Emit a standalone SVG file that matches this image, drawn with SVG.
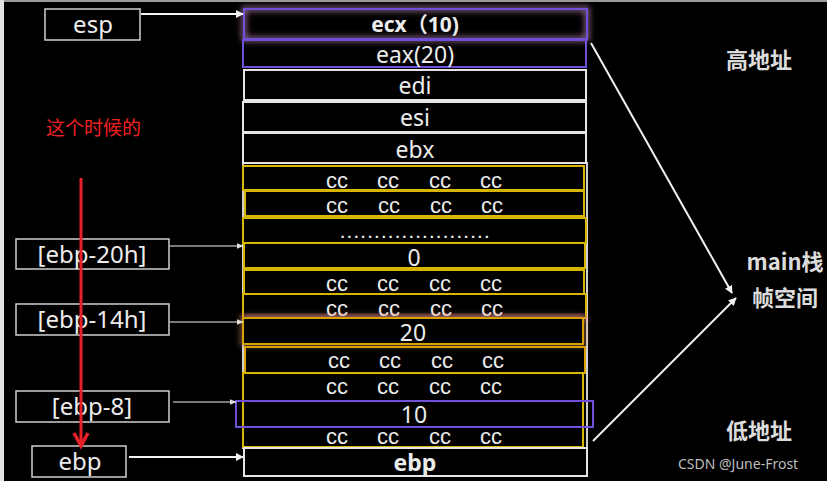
<svg xmlns="http://www.w3.org/2000/svg" width="827" height="481" viewBox="0 0 827 481">
<defs>
<style>
.t{font-family:"Noto Sans","Noto Sans CJK SC",sans-serif;fill:#ececec;text-anchor:middle}
.cell{fill:#000;stroke:#e6e6e6;stroke-width:2}
.yel{fill:none;stroke:#d8b600;stroke-width:2}
.pur{fill:none;stroke:#7050d8;stroke-width:2}
.lbl{fill:#000;stroke:#d0d0d0;stroke-width:1.5}
.cc{font-size:22px;font-family:"Liberation Sans",sans-serif}
.conn{stroke:#f2f2f2;fill:none}
.side{font-family:"Noto Sans CJK SC","Noto Sans",sans-serif;fill:#dcdcdc;font-size:22px;font-weight:bold;text-anchor:middle}
</style>
<marker id="ah" viewBox="0 0 10 10" refX="9" refY="5" markerWidth="4" markerHeight="4" orient="auto" markerUnits="strokeWidth"><path d="M0,0L10,5L0,10z" fill="#f2f2f2"/></marker>
<marker id="ahs" viewBox="0 0 10 10" refX="9" refY="5" markerWidth="6" markerHeight="6" orient="auto" markerUnits="strokeWidth"><path d="M0,1L10,5L0,9z" fill="#dcdcdc"/></marker>
<filter id="glow" x="-10%" y="-60%" width="120%" height="220%"><feGaussianBlur stdDeviation="3"/></filter>
</defs>
<rect width="827" height="481" fill="#000"/>
<rect x="0" y="0" width="827" height="2" fill="#9a9a9a"/>
<rect x="0" y="0" width="4" height="481" fill="#e4e4e4"/>

<g id="stack">
<rect x="243" y="163" width="344" height="285" fill="none" stroke="#cfcfcf" stroke-width="2"/>
<rect x="244" y="9" width="343" height="30" fill="none" stroke="#e0a0d8" stroke-width="3" filter="url(#glow)"/>
<rect class="pur" x="244" y="9" width="343" height="30" fill="#000"/>
<text class="t" x="415" y="32" font-size="21" font-weight="bold" fill="#f2e4f2">ecx（10)</text>
<rect class="pur" x="243" y="40" width="343" height="27" stroke-width="1.5"/>
<text class="t" x="415" y="63" font-size="23">eax(20)</text>
<rect class="cell" x="244" y="70" width="342" height="30"/>
<text class="t" x="415" y="94" font-size="23">edi</text>
<rect class="cell" x="243" y="102" width="343" height="30"/>
<text class="t" x="415" y="126" font-size="23">esi</text>
<rect class="cell" x="243" y="133" width="343" height="30"/>
<text class="t" x="415" y="158" font-size="23">ebx</text>

<rect class="yel" x="243" y="166" width="341" height="24"/>
<g class="t cc"><text x="337" y="188">cc</text><text x="388" y="188">cc</text><text x="440" y="188">cc</text><text x="491" y="188">cc</text></g>
<rect class="yel" x="245" y="191" width="339" height="25"/>
<g class="t cc"><text x="337" y="213">cc</text><text x="389" y="213">cc</text><text x="441" y="213">cc</text><text x="492" y="213">cc</text></g>
<rect class="yel" x="243" y="218" width="343" height="25"/>
<text x="416" y="238" font-family="'Liberation Sans',sans-serif" font-size="15" font-weight="bold" fill="#ececec" text-anchor="middle" letter-spacing="2.7">......................</text>
<rect class="yel" x="244" y="243" width="341" height="25"/>
<text class="t" x="414" y="266" font-size="23">0</text>
<rect class="yel" x="244" y="270" width="340" height="24"/>
<g class="t cc"><text x="337" y="291">cc</text><text x="388" y="291">cc</text><text x="440" y="291">cc</text><text x="491" y="291">cc</text></g>
<rect class="yel" x="243" y="294" width="343" height="24"/>
<rect x="243" y="316" width="343" height="4" fill="#d070a0" filter="url(#glow)"/>
<g class="t cc" fill="#f0e0f0"><text x="337" y="316">cc</text><text x="389" y="316">cc</text><text x="441" y="316">cc</text><text x="492" y="316">cc</text></g>
<rect x="243" y="318" width="340" height="26" fill="none" stroke="#e09060" stroke-width="3" filter="url(#glow)"/>
<rect x="243" y="318" width="340" height="26" fill="#000" stroke="#d8a000" stroke-width="2"/>
<text class="t" x="413" y="341" font-size="23">20</text>
<rect x="245" y="347" width="340" height="26" fill="none" stroke="#d8a000" stroke-width="2"/>
<g class="t cc"><text x="339" y="368">cc</text><text x="390" y="368">cc</text><text x="442" y="368">cc</text><text x="493" y="368">cc</text></g>
<rect class="yel" x="243" y="373" width="340" height="74"/>
<g class="t cc"><text x="337" y="394">cc</text><text x="388" y="394">cc</text><text x="440" y="394">cc</text><text x="491" y="394">cc</text></g>
<rect class="pur" x="236" y="401" width="357" height="26"/>
<text class="t" x="414" y="423" font-size="23">10</text>
<g class="t cc"><text x="337" y="444">cc</text><text x="388" y="444">cc</text><text x="440" y="444">cc</text><text x="491" y="444">cc</text></g>
<rect class="cell" x="244" y="448" width="343" height="28"/>
<text class="t" x="415" y="471" font-size="23" font-weight="bold">ebp</text>
</g>

<g id="esp"><rect class="lbl" x="45" y="9" width="95" height="31"/><text class="t" x="93" y="33" font-size="24">esp</text></g>
<g id="ebp20"><rect class="lbl" x="16" y="239" width="153" height="30"/><text class="t" x="92" y="263" font-size="24">[ebp-20h]</text></g>
<g id="ebp14"><rect class="lbl" x="16" y="304" width="153" height="31"/><text class="t" x="92" y="328" font-size="24">[ebp-14h]</text></g>
<g id="ebp8"><rect class="lbl" x="16" y="391" width="153" height="31"/><text class="t" x="92" y="415" font-size="24">[ebp-8]</text></g>
<g id="ebpl"><rect class="lbl" x="32" y="446" width="94" height="31"/><text class="t" x="80" y="470" font-size="24">ebp</text></g>

<g id="notes">
<text x="46" y="135" font-family="'Noto Sans CJK SC',sans-serif" font-size="19" fill="#f02020">这个时候的</text>
<text class="side" x="759" y="68">高地址</text>
<text class="side" x="785" y="270">main栈</text>
<text class="side" x="785" y="306">帧空间</text>
<text class="side" x="759" y="439">低地址</text>
<text x="678" y="469" font-family="'Noto Sans','Noto Sans CJK SC',sans-serif" font-size="14" fill="#bdbdbd">CSDN @June-Frost</text>
</g>

<g id="connectors">
<line class="conn" x1="141" y1="14" x2="243" y2="14" stroke-width="2" marker-end="url(#ah)"/>
<line class="conn" x1="170" y1="246" x2="243" y2="246" stroke-width="1.2" stroke="#cfcfcf" marker-end="url(#ahs)"/>
<line class="conn" x1="170" y1="322" x2="243" y2="322" stroke-width="1.2" stroke="#cfcfcf" marker-end="url(#ahs)"/>
<line class="conn" x1="173" y1="402" x2="236" y2="402" stroke-width="1.2" stroke="#cfcfcf" marker-end="url(#ahs)"/>
<line class="conn" x1="129" y1="457" x2="243" y2="457" stroke-width="2" marker-end="url(#ah)"/>
<line class="conn" x1="591" y1="43" x2="732" y2="293" stroke-width="2" marker-end="url(#ah)"/>
<line class="conn" x1="593" y1="441" x2="736" y2="298" stroke-width="2" marker-end="url(#ah)"/>
<line x1="81" y1="178" x2="81" y2="445" stroke="#e8202a" stroke-width="3"/>
<path d="M74,433L81,446L88,433" stroke="#e8202a" stroke-width="3.5" fill="none" stroke-linejoin="miter"/>
</g>
</svg>
